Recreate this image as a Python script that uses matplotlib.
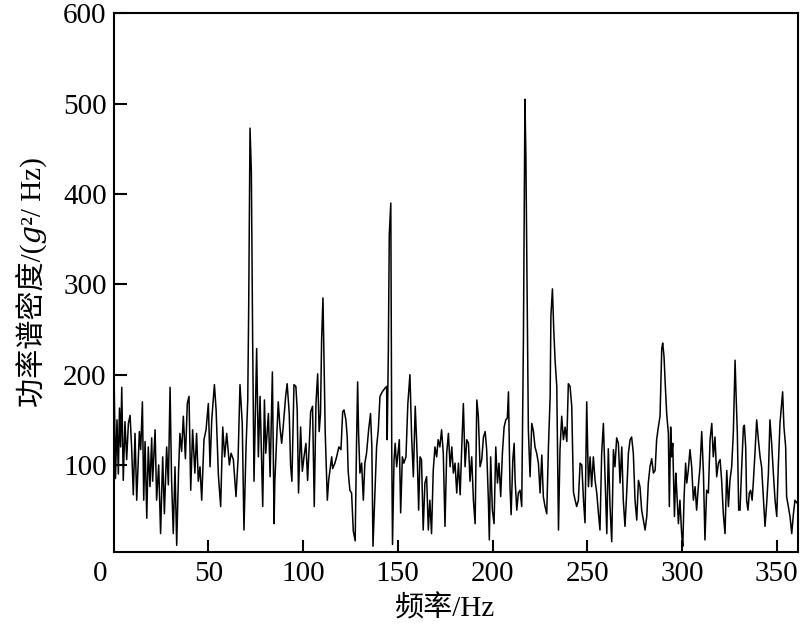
import matplotlib
matplotlib.use('Agg')
import matplotlib.pyplot as plt

plt.rcParams['font.family'] = ['Liberation Serif', 'Noto Sans CJK SC', 'DejaVu Serif']

# spectrum (Hz, g^2/Hz)
freq_a = [0.3, 1.0, 1.8, 2.5, 3.1, 3.7, 4.3, 5.1, 6.0, 6.9, 7.8, 8.7, 9.5, 10.4, 11.3, 12.2, 13.6, 14.3,
          15.2, 15.9, 16.6, 17.5, 18.3, 19.2, 20.1, 20.6, 21.9, 22.7, 23.8, 24.8, 25.9, 26.8, 28.0, 28.9,
          29.8, 30.6, 31.5, 32.4, 33.3, 34.3, 35.0, 35.9, 36.8, 37.9, 38.9, 39.8, 40.7, 41.7, 42.9, 43.8,
          44.7, 45.6, 46.5, 47.7, 48.8, 50.0, 50.9, 51.8, 53.2, 54.1, 55.3, 56.5, 57.6, 58.6, 59.7, 61.1,
          62.0, 63.2, 64.6, 65.7, 66.7, 67.9, 68.8, 69.9, 70.8, 71.3, 72.0, 72.7, 73.4, 74.1, 75.5, 76.4,
          77.3, 78.7, 79.6, 80.3, 81.7, 82.6, 83.8, 84.7, 85.1]
psd_a = [190, 85, 150, 90, 163, 120, 186, 83, 148, 106, 146, 155, 120, 67, 135, 61, 137, 117,
         170, 61, 126, 41, 120, 76, 130, 82, 139, 61, 100, 24, 109, 46, 120, 78,
         186, 83, 24, 98, 11, 94, 135, 115, 154, 107, 168, 176, 72, 139, 91, 135,
         82, 98, 61, 128, 139, 168, 98, 150, 189, 161, 89, 54, 142, 109, 135, 100,
         113, 106, 65, 107, 189, 146, 28, 120, 172, 275, 473, 425, 235, 82, 229, 109,
         176, 54, 172, 113, 157, 87, 203, 35, 82]

freq_b = [86.9, 87.8, 88.7, 89.5, 90.8, 91.6, 92.7, 93.4, 94.1, 95.2, 96.2, 96.9, 97.6, 98.7, 99.6,
          100.5, 101.5, 102.4, 103.3, 104.0, 105.0, 105.9, 106.8, 107.7, 108.5, 109.2, 109.8, 110.5,
          111.0, 111.7, 112.8, 113.5, 114.2, 115.1, 115.6, 116.8, 117.7, 118.9, 120.0, 120.9, 121.6,
          122.6, 123.3, 123.8, 124.7, 125.6, 126.5, 127.5, 128.2, 128.8, 129.3, 130.0, 130.9, 131.8,
          132.6, 133.5, 134.6, 135.6, 136.3, 136.9, 138.0, 138.8, 139.7, 140.6, 141.8, 143.2, 144.1,
          144.4, 145.0, 145.5, 146.3, 146.8, 147.2, 148.0, 148.6, 149.4, 150.1, 150.8, 151.5, 152.4,
          153.2, 154.3, 155.3, 156.4, 157.3, 158.2, 159.2, 159.9, 160.4, 161.0, 161.7, 162.5, 163.4,
          164.3, 165.2, 166.1, 166.9, 167.8, 168.7, 169.6, 170.5, 171.3, 172.2, 173.1, 174.0, 174.9,
          175.8, 176.7]
psd_b = [170, 142, 124, 142, 176, 190, 157, 100, 82, 189, 187, 161, 69, 142, 93,
         109, 124, 83, 124, 159, 165, 54, 168, 201, 137, 157, 240, 285,
         224, 135, 61, 83, 94, 109, 96, 102, 109, 120, 117, 159, 161,
         150, 131, 93, 72, 69, 27, 16, 122, 192, 135, 91, 102, 61,
         102, 113, 139, 157, 120, 10, 72, 120, 139, 176, 181, 185, 187,
         128, 226, 355, 390, 117, 12, 105, 124, 98, 113, 128, 47, 109,
         102, 109, 168, 200, 131, 87, 165, 128, 98, 50, 109, 106, 28,
         80, 87, 28, 61, 24, 94, 120, 109, 128, 120, 139, 113, 32,
         113, 135]

freq_c = [177.6, 178.5, 179.3, 180.2, 181.1, 182.0, 182.9, 183.7, 184.6, 185.5, 186.4, 187.3, 188.1,
          189.0, 189.9, 190.8, 191.7, 192.5, 193.4, 194.3, 195.2, 196.1, 196.9, 197.8, 198.3, 199.0,
          199.9, 200.8, 201.7, 202.6, 203.4, 204.3, 205.2, 206.1, 207.0, 207.8, 208.4, 209.2, 209.8,
          210.7, 211.4, 211.9, 212.8, 213.6, 214.5, 215.4, 216.3, 217.1, 217.6, 218.2, 218.9, 219.8,
          220.7, 221.6, 222.4, 223.3, 224.2, 225.1, 226.0, 226.8, 227.7, 228.6, 229.5, 230.4, 230.8,
          231.6, 232.3, 233.0, 233.9, 234.8, 235.6, 236.5, 237.4, 238.3, 239.2, 240.0, 240.9, 241.8,
          242.7, 243.6, 244.4, 245.3, 246.2, 247.1, 248.0, 248.8, 249.7, 250.6, 251.5, 252.3, 253.2,
          254.1, 255.0, 255.9, 256.7, 257.6, 258.5, 259.4, 260.3, 261.1, 262.0, 262.9]
psd_c = [98, 120, 91, 102, 69, 102, 67, 117, 168, 98, 128, 124, 82,
         109, 61, 35, 172, 154, 98, 106, 131, 137, 117, 61, 17, 109,
         50, 35, 120, 80, 102, 65, 113, 142, 150, 152, 181, 76, 45,
         106, 124, 83, 50, 69, 72, 54, 240, 505, 441, 300, 139, 87,
         146, 137, 120, 113, 102, 69, 111, 65, 54, 46, 120, 176, 265,
         295, 250, 216, 187, 28, 117, 154, 128, 142, 126, 190, 187, 165,
         70, 61, 54, 61, 102, 100, 61, 36, 170, 76, 109, 76, 109,
         83, 69, 46, 28, 113, 146, 83, 24, 118, 54, 15]

freq_d = [263.8, 264.6, 265.5, 266.4, 267.3, 268.2, 269.0, 269.9, 270.8, 271.7, 272.6, 273.4, 274.3,
          275.2, 276.1, 277.0, 277.8, 278.7, 279.6, 280.5, 281.4, 282.2, 283.1, 284.0, 284.9, 285.8,
          286.6, 287.5, 288.4, 289.3, 289.8, 290.5, 291.2, 291.9, 292.8, 293.3, 294.0, 294.5, 295.1,
          295.4, 296.0, 296.7, 297.2, 298.1, 298.9, 299.8, 300.4, 301.1, 301.9, 302.5, 303.3, 304.2,
          305.1, 306.0, 306.9, 307.7, 308.6, 309.5, 310.4, 311.3, 312.1, 313.0, 313.9, 314.8, 315.7,
          316.5, 317.4, 318.3, 319.2, 320.1, 320.9, 321.8, 322.7, 323.6, 324.5, 325.3, 326.2, 327.1,
          328.0, 328.5, 329.2, 329.9, 330.6, 331.5, 332.4, 332.9, 333.6, 334.1, 334.8, 335.5, 336.2,
          337.0, 337.6, 338.5, 339.4, 340.3, 341.2, 342.0, 342.9, 343.8, 344.7, 345.6, 346.4, 347.3,
          348.2, 349.1, 350.0, 350.8, 351.7, 352.6, 353.1, 353.8, 354.7, 355.2, 356.1, 357.0, 357.9,
          358.8, 359.6, 360.5, 361.0]
psd_d = [117, 98, 130, 124, 80, 120, 61, 32, 69, 113, 128, 131, 113,
         61, 39, 83, 76, 50, 39, 28, 43, 80, 98, 107, 91, 94,
         128, 142, 154, 229, 235, 220, 187, 157, 135, 54, 142, 109, 124,
         98, 43, 91, 72, 35, 61, 24, 10, 65, 102, 80, 94, 117,
         98, 61, 76, 50, 76, 98, 137, 91, 17, 72, 69, 128, 146,
         109, 131, 87, 102, 106, 83, 46, 24, 94, 54, 83, 98, 137,
         216, 180, 135, 50, 50, 98, 142, 144, 120, 61, 50, 69, 72,
         61, 80, 113, 150, 128, 109, 98, 65, 32, 58, 91, 150, 124,
         91, 61, 43, 98, 146, 168, 181, 142, 120, 65, 54, 43, 24,
         46, 61, 58, 60]

freq = freq_a + freq_b + freq_c + freq_d
psd = psd_a + psd_b + psd_c + psd_d

x_ticks = [50, 100, 150, 200, 250, 300, 350]
y_ticks = [100, 200, 300, 400, 500, 600]

fig = plt.figure(figsize=(8, 6.31), dpi=100)
ax = fig.add_axes([0.142, 0.1257, 0.855, 0.853])

ax.plot(freq, psd, color='black', lw=1.1)

ax.set_xlim(0, 361)
ax.set_ylim(4, 600)
ax.set_xticks(x_ticks)
ax.set_yticks(y_ticks)

size = 21
ax.tick_params(axis='both', direction='in', length=9, width=1.5, labelsize=size)
ax.tick_params(axis='x', pad=7)
ax.tick_params(axis='y', pad=5)
for sp in ax.spines.values():
    sp.set_linewidth(1.5)

# the 0 label sits a bit left of the spine in the original
ax.annotate('0', xy=(0, 0), xycoords=('data', 'axes fraction'), xytext=(-10, -7),
            textcoords='offset points', ha='center', va='top', fontsize=size)

ax.set_xlabel('频率/Hz', fontsize=size)
ax.set_ylabel('功率谱密度/(\U0001D454²/ Hz)', fontsize=size)
ax.xaxis.set_label_coords(0.485, -0.08)
ax.yaxis.set_label_coords(-0.097, 0.5)

fig.savefig('out.png', dpi=100)
